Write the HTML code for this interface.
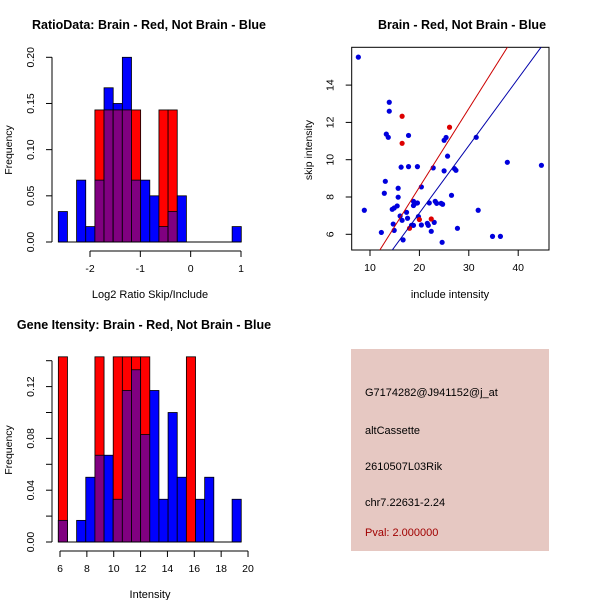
<!DOCTYPE html>
<html><head><meta charset="utf-8">
<style>
body{margin:0;background:#fff;}
svg{display:block;font-family:"Liberation Sans",sans-serif;}
</style></head>
<body>
<svg id="c" width="600" height="600" xmlns="http://www.w3.org/2000/svg">
<rect width="600" height="600" fill="#fff"/>
<g id="p1"></g>
<g id="p2"></g>
<g id="p3"></g>
<g>
<rect x="351" y="349" width="198" height="202" fill="#e6c8c2"/>
<text x="365" y="396" font-size="11" fill="#000">G7174282@J941152@j_at</text>
<text x="365" y="434" font-size="11" fill="#000">altCassette</text>
<text x="365" y="470" font-size="11" fill="#000">2610507L03Rik</text>
<text x="365" y="506" font-size="11" fill="#000">chr7.22631-2.24</text>
<text x="365" y="536" font-size="11" fill="#a00000">Pval: 2.000000</text>
</g>
</svg>
<script>
// Ratio histogram data
const ratioBinStart = -2.63;
const ratioBinWidth = 0.1818;
const ratioBlue = [0.033,0,0.067,0.0167,0.067,0.167,0.15,0.2,0.067,0.067,0.05,0.0167,0.033,0.05,0,0,0,0,0,0.0167];
const ratioRed  = [0,0,0,0,0.143,0.143,0.143,0.143,0.143,0,0,0.143,0.143,0,0,0,0,0,0,0];
const ratioXTicks = [-2,-1,0,1];
const ratioYTicks = [0,0.05,0.10,0.15,0.20];
const ratioYLabels = ["0.00","0.05","0.10","0.15","0.20"];
// Gene intensity histogram data
const geneBinStart = 5.876;
const geneBinWidth = 0.681;
const geneBlue = [0.0167,0,0.0167,0.05,0.067,0.067,0.033,0.117,0.133,0.083,0.117,0.033,0.1,0.05,0,0.033,0.05,0,0,0.033];
const geneRed  = [0.143,0,0,0,0.143,0,0.143,0.143,0.143,0.143,0,0,0,0,0.143,0,0,0,0,0];
const geneXTicks = [6,8,10,12,14,16,18,20];
const geneYTicks = [0,0.02,0.04,0.06,0.08,0.10,0.12,0.14];
const geneYLabels = ["0.00","","0.04","","0.08","","0.12",""];
// Scatter data
const blueX = [7.64,13.9,13.9,13.3,13.7,17.8,16.3,17.8,19.6,13.1,12.9,15.7,15.7,8.85,14.5,14.9,15.5,16.1,16.5,17.4,17.6,18.8,18.8,19.2,19.6,19.8,20.4,20.4,18.4,18.8,14.7,14.9,12.3,16.7,21.6,21.8,23.0,22.4,22.0,23.2,23.5,24.4,24.7,24.6,22.8,25.0,25.7,25.0,25.4,26.5,27.1,27.4,27.7,31.5,31.9,34.8,36.4,37.8,44.7];
const blueY = [15.5,13.08,12.6,11.37,11.2,11.3,9.6,9.63,9.63,8.84,8.2,8.47,7.99,7.29,7.34,7.41,7.52,6.98,6.75,7.18,6.86,7.77,7.54,7.66,7.68,6.95,8.54,6.5,6.48,6.48,6.55,6.21,6.1,5.7,6.59,6.48,6.64,6.16,7.68,7.77,7.66,7.66,7.61,5.57,9.56,9.4,10.19,11.04,11.19,8.09,9.52,9.43,6.32,11.2,7.29,5.89,5.89,9.86,9.7];
const redX = [16.5,16.5,26.1,20.0,22.4,18.0];
const redY = [12.33,10.88,11.74,6.79,6.82,6.32];
const redFit = [0.11,0.421];
const blueFit = [-0.08,0.361];
const scatXTicks = [10,20,30,40];
const scatYTicks = [6,8,10,12,14];

const NS="http://www.w3.org/2000/svg";
function mk(parent,tag,attrs){const e=document.createElementNS(NS,tag);for(const k in attrs)e.setAttribute(k,attrs[k]);parent.appendChild(e);return e;}

function hist(g,opt){
  const sx=v=>opt.x0px+(v-opt.x0)*opt.xs;
  const sy=v=>opt.y0px-v*opt.ys;
  const n=opt.blue.length;
  for(let i=0;i<n;i++){
    const a=opt.start+i*opt.width,b=a+opt.width;
    const bl=opt.blue[i],rd=opt.red[i],mn=Math.min(bl,rd);
    const x=sx(a),w=sx(b)-sx(a);
    if(bl>0){const r=mk(g,'rect',{x:x,y:sy(bl),width:w,height:sy(0)-sy(bl),fill:'#0000ff',stroke:'#000','stroke-width':0.8});
      
      }
    if(rd>0){const r=mk(g,'rect',{x:x,y:sy(rd),width:w,height:sy(0)-sy(rd),fill:'#ff0000',stroke:'#000','stroke-width':0.8});
      
      }
    if(mn>0){const r=mk(g,'rect',{x:x,y:sy(mn),width:w,height:sy(0)-sy(mn),fill:'#800080',stroke:'#000','stroke-width':0.8});
      
      }
  }
  mk(g,'line',{x1:sx(opt.start),x2:sx(opt.start+n*opt.width),y1:sy(0),y2:sy(0),stroke:'#000'});
  const ya=mk(g,'g',{});
  
  
  const yt=opt.yticks;
  mk(ya,'line',{x1:opt.yaxX,x2:opt.yaxX,y1:sy(yt[0]),y2:sy(yt[yt.length-1]),stroke:'#000'});
  const lx=opt.yaxX-18;
  yt.forEach((v,i)=>{mk(ya,'line',{x1:opt.yaxX-6,x2:opt.yaxX,y1:sy(v),y2:sy(v),stroke:'#000'});
    if(opt.ylabels[i]){const t=mk(ya,'text',{x:lx,y:sy(v),'font-size':10.5,'text-anchor':'middle',transform:`rotate(-90 ${lx} ${sy(v)})`});t.textContent=opt.ylabels[i];}});
  const xa=mk(g,'g',{});
  
  
  const xt=opt.xticks, ay=opt.xaxY;
  mk(xa,'line',{x1:sx(xt[0]),x2:sx(xt[xt.length-1]),y1:ay,y2:ay,stroke:'#000'});
  xt.forEach(v=>{mk(xa,'line',{x1:sx(v),x2:sx(v),y1:ay,y2:ay+6,stroke:'#000'});
    const t=mk(xa,'text',{x:sx(v),y:ay+21,'font-size':10.5,'text-anchor':'middle'});t.textContent=String(v);});
  const xl=mk(g,'text',{x:opt.xlabX,y:opt.xlabY,'font-size':11,'text-anchor':'middle'});xl.textContent=opt.xlab;
  
  
  const yl=mk(g,'text',{x:12,y:opt.ylabY,'font-size':10.5,'text-anchor':'middle',transform:`rotate(-90 12 ${opt.ylabY})`});yl.textContent='Frequency';
  
  
  const ti=mk(g,'text',{x:opt.titleX,y:opt.titleY,'font-size':12.5,'font-weight':'bold','text-anchor':'middle'});ti.textContent=opt.title;
  
  
}

hist(document.getElementById('p1'),{start:ratioBinStart,width:ratioBinWidth,blue:ratioBlue,red:ratioRed,
  x0:-2,x0px:90,xs:50.33,y0px:242,ys:923.5,yticks:ratioYTicks,ylabels:ratioYLabels,xticks:ratioXTicks,
  yaxX:52,xaxY:251,xlab:'Log2 Ratio Skip/Include',xlabX:150,xlabY:298,ylabY:150,
  title:'RatioData: Brain - Red, Not Brain - Blue',titleX:149,titleY:29});

hist(document.getElementById('p3'),{start:geneBinStart,width:geneBinWidth,blue:geneBlue,red:geneRed,
  x0:6,x0px:60,xs:13.43,y0px:542,ys:1295,yticks:geneYTicks,ylabels:geneYLabels,xticks:geneXTicks,
  yaxX:52,xaxY:551,xlab:'Intensity',xlabX:150,xlabY:598,ylabY:450,
  title:'Gene Itensity: Brain - Red, Not Brain - Blue',titleX:144,titleY:329});

(function(){
  const g=document.getElementById('p2');
  const L=351.7,R=549,T=47.3,B=250;
  const sx=v=>370+(v-10)*4.94;
  const sy=v=>234.3-(v-6)*18.65;
  mk(g,'defs',{}).innerHTML='<clipPath id="cl"><rect x="351.7" y="47.3" width="197.3" height="202.7"/></clipPath>';
  const box=mk(g,'rect',{x:L,y:T,width:R-L,height:B-T,fill:'none',stroke:'#000'});
  
  
  const pts=mk(g,'g',{});
  
  
  blueX.forEach((v,i)=>{const c=mk(pts,'circle',{cx:sx(v),cy:sy(blueY[i]),r:2.6,fill:'#0000dd'});
    
    });
  redX.forEach((v,i)=>{const c=mk(pts,'circle',{cx:sx(v),cy:sy(redY[i]),r:2.6,fill:'#dd0000'});
    
    });
  const lg=mk(g,'g',{'clip-path':'url(#cl)'});
  [[redFit,'#cc0000','brain-fit-line'],[blueFit,'#0000aa','not-brain-fit-line']].forEach(([f,col,nm])=>{
    const xa=0,xb=60;
    const l=mk(lg,'line',{x1:sx(xa),y1:sy(f[0]+f[1]*xa),x2:sx(xb),y2:sy(f[0]+f[1]*xb),stroke:col,'stroke-width':1});
    
    });
  const xa=mk(g,'g',{});
  
  
  scatXTicks.forEach(v=>{mk(xa,'line',{x1:sx(v),x2:sx(v),y1:B,y2:B+6,stroke:'#000'});
    const t=mk(xa,'text',{x:sx(v),y:B+21,'font-size':10.5,'text-anchor':'middle'});t.textContent=String(v);});
  const ya=mk(g,'g',{});
  
  
  const lx=L-18;
  scatYTicks.forEach(v=>{mk(ya,'line',{x1:L-6,x2:L,y1:sy(v),y2:sy(v),stroke:'#000'});
    const t=mk(ya,'text',{x:lx,y:sy(v),'font-size':10.5,'text-anchor':'middle',transform:`rotate(-90 ${lx} ${sy(v)})`});t.textContent=String(v);});
  const xl=mk(g,'text',{x:450,y:298,'font-size':11,'text-anchor':'middle'});xl.textContent='include intensity';
  
  
  const yl=mk(g,'text',{x:312,y:150,'font-size':10.5,'text-anchor':'middle',transform:'rotate(-90 312 150)'});yl.textContent='skip intensity';
  
  
  const ti=mk(g,'text',{x:462,y:29,'font-size':12.5,'font-weight':'bold','text-anchor':'middle'});ti.textContent='Brain - Red, Not Brain - Blue';
  
  
})();
</script>
</body></html>
